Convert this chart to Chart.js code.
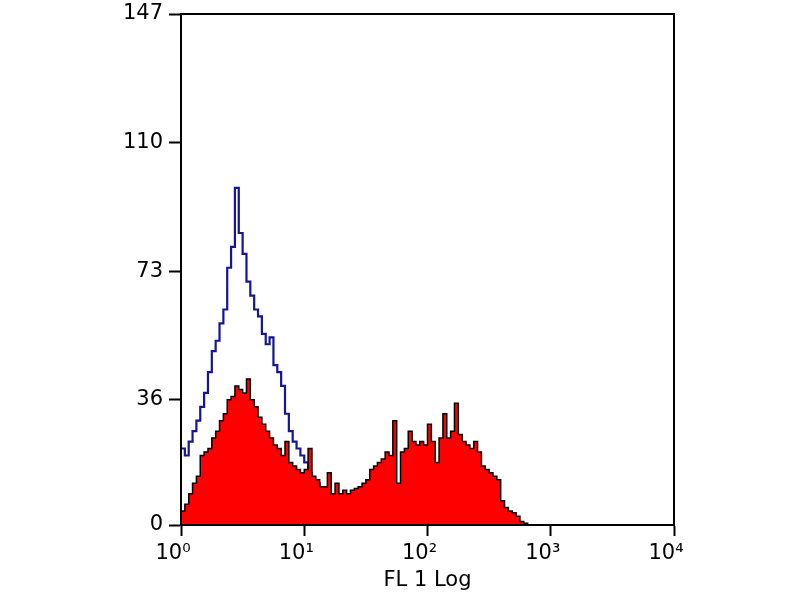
<!DOCTYPE html>
<html>
<head>
<meta charset="utf-8">
<script src="https://cdn.jsdelivr.net/npm/chart.js@4/dist/chart.umd.min.js"></script>
<style>
  body { margin: 0; background: #fff; }
</style>
</head>
<body>
<canvas id="c" width="800" height="600"></canvas>
<script>
// histogram channels, 32 per decade, starting at 10^0
const channelsPerDecade = 32;

const stainedCounts = [
  4, 6, 9, 12, 14, 20, 21, 22, 25, 27,
  30, 32, 36, 37, 40, 39, 38, 42, 36, 34,
  31, 29, 27, 25, 23, 22, 20, 24, 18, 17,
  16, 15, 16, 22, 14, 13, 11, 11, 15, 9,
  12, 9, 10, 9, 10, 10.5, 11, 12, 13, 16,
  17, 18, 19, 21, 20, 30, 12, 21, 22, 27,
  24, 23, 24, 23, 29, 24, 18, 25, 32, 25,
  27, 35, 26, 24, 23, 22, 24, 21, 17, 16,
  15, 14, 13, 7, 5, 4, 3.5, 2.5, 1, 0.5,
  0
];

const controlCounts = [
  22, 20, 24, 27, 30, 34, 38, 44, 50, 53,
  58, 62, 74, 80, 97, 84, 78, 70, 66, 62,
  60, 55, 52, 54, 46, 44, 40, 32, 27, 24,
  22, 20, 18, 15, 13, 12, 10, 9, 7, 6,
  5, 4, 4, 3, 3, 2, 2, 2, 1, 1,
  1, 1, 0
];

const yTicks = [0, 36, 73, 110, 147];
const xTicks = [1, 10, 100, 1000, 10000];
const xTickLabels = ['10\u2070', '10\u00b9', '10\u00b2', '10\u00b3', '10\u2074'];
const xTitle = 'FL 1 Log';

function toPoints(counts) {
  return counts.map((v, i) => ({ x: Math.pow(10, i / channelsPerDecade), y: v }));
}

const frame = {
  id: 'frame',
  afterDraw(chart) {
    const a = chart.chartArea;
    const ctx = chart.ctx;
    ctx.save();
    ctx.strokeStyle = '#000';
    ctx.lineWidth = 2;
    ctx.strokeRect(a.left, a.top, a.right - a.left, a.bottom - a.top);
    ctx.restore();
  }
};

const font = { family: 'DejaVu Sans', size: 21 };

new Chart(document.getElementById('c').getContext('2d'), {
  type: 'line',
  data: {
    datasets: [
      {
        label: 'stained',
        data: toPoints(stainedCounts),
        stepped: true,
        fill: 'origin',
        backgroundColor: '#ff0000',
        borderColor: '#000000',
        borderWidth: 1.5,
        pointRadius: 0
      },
      {
        label: 'control',
        data: toPoints(controlCounts),
        stepped: true,
        fill: false,
        borderColor: '#14149c',
        borderWidth: 2.2,
        pointRadius: 0
      }
    ]
  },
  options: {
    responsive: false,
    animation: false,
    layout: { padding: { top: 14, right: 126, left: 0, bottom: 0 } },
    plugins: { legend: { display: false }, tooltip: { enabled: false } },
    scales: {
      x: {
        type: 'logarithmic',
        min: 1,
        max: 10000,
        afterBuildTicks: s => { s.ticks = xTicks.map(v => ({ value: v })); },
        afterFit: s => { s.height = 75; s.paddingLeft = 0; s.paddingRight = 0; },
        grid: { drawOnChartArea: false, tickLength: 11, tickColor: '#000', tickWidth: 2 },
        border: { display: true, color: '#000', width: 2 },
        ticks: {
          autoSkip: false,
          maxRotation: 0,
          color: '#000',
          font: font,
          padding: 5,
          labelOffset: -8,
          callback: (v, i) => xTickLabels[i]
        },
        title: { display: true, text: xTitle, color: '#000', font: font, padding: { top: 0, bottom: 7 } }
      },
      y: {
        min: 0,
        max: 147,
        afterBuildTicks: s => { s.ticks = yTicks.map(v => ({ value: v })); },
        afterFit: s => { s.width = 181; s.paddingTop = 0; s.paddingBottom = 0; },
        grid: { drawOnChartArea: false, tickLength: 12, tickColor: '#000', tickWidth: 2 },
        border: { display: true, color: '#000', width: 2 },
        ticks: { color: '#000', font: font, padding: 6 }
      }
    }
  },
  plugins: [frame]
});
</script>
</body>
</html>
